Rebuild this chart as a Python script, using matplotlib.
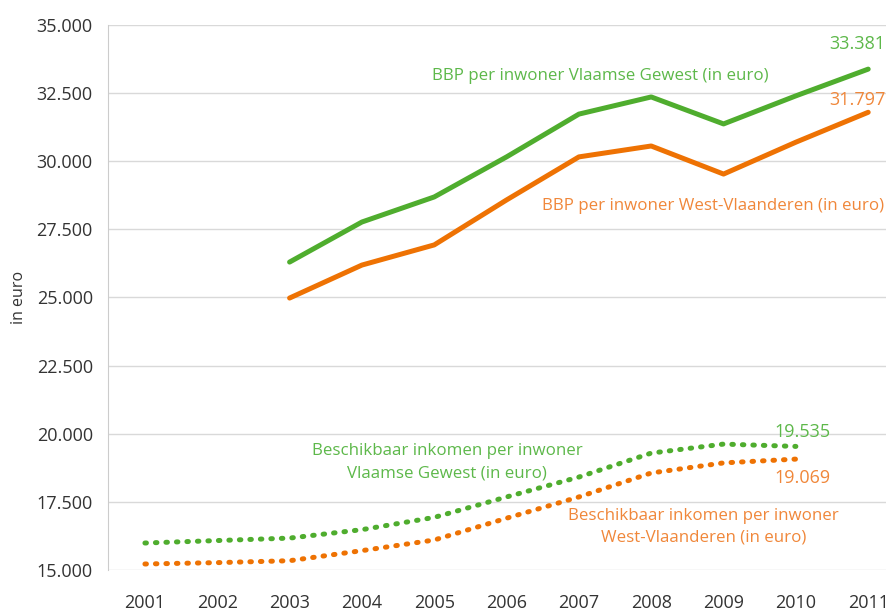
import matplotlib
matplotlib.use('Agg')
import matplotlib.pyplot as plt
from matplotlib.ticker import FuncFormatter

plt.rcParams['font.family'] = ['Open Sans', 'DejaVu Sans']

# data
years = list(range(2001, 2012))
bbp_years = list(range(2003, 2012))
bbp_vlaams = [26300, 27770, 28690, 30160, 31730, 32360, 31370, 32400, 33381]
bbp_west = [24980, 26190, 26930, 28580, 30160, 30560, 29530, 30700, 31797]

ink_years = list(range(2001, 2011))
ink_vlaams = [15990, 16080, 16170, 16480, 16930, 17680, 18410, 19290, 19620, 19535]
ink_west = [15220, 15270, 15340, 15710, 16100, 16900, 17680, 18560, 18930, 19069]

green = '#4FAD2E'
orange = '#EE7203'
green_txt = '#5DB84A'
orange_txt = '#F0873A'

fig = plt.figure(figsize=(8.87, 6.1), dpi=100)
ax = fig.add_axes([0.1218, 0.0656, 0.8782, 0.8934])

ax.plot(bbp_years, bbp_vlaams, color=green, lw=3.6, solid_capstyle='round', solid_joinstyle='round')
ax.plot(bbp_years, bbp_west, color=orange, lw=3.6, solid_capstyle='round', solid_joinstyle='round')
ax.plot(ink_years, ink_vlaams, color=green, lw=3.6, linestyle=(0, (0.3, 1.8)), dash_capstyle='round')
ax.plot(ink_years, ink_west, color=orange, lw=3.6, linestyle=(0, (0.3, 1.8)), dash_capstyle='round')

ax.set_xlim(2000.49, 2011.26)
ax.set_ylim(15000, 35000)
ax.set_yticks(range(15000, 35001, 2500))
ax.yaxis.set_major_formatter(FuncFormatter(lambda v, p: f'{int(v):,}'.replace(',', '.')))
ax.set_xticks(years)
ax.set_xticklabels([str(y) for y in years])

ax.grid(axis='y', color='#d9d9d9', lw=1)
ax.set_axisbelow(True)
for s in ['top', 'right', 'bottom']:
    ax.spines[s].set_visible(False)
ax.spines['left'].set_color('#cccccc')
ax.tick_params(length=0, labelsize=13, colors='#333333')
ax.tick_params(axis='y', pad=11)
ax.tick_params(axis='x', pad=17)
ax.set_ylabel('in euro', fontsize=11.5, color='#333333', labelpad=7)

ax.text(2007.29, 33130, 'BBP per inwoner Vlaamse Gewest (in euro)', color=green_txt,
        fontsize=12.2, ha='center', va='center')
ax.text(2011.24, 34300, '33.381', color=green_txt, fontsize=13, ha='right', va='center')
ax.text(2011.24, 32250, '31.797', color=orange_txt, fontsize=13, ha='right', va='center')
ax.text(2011.22, 28360, 'BBP per inwoner West-Vlaanderen (in euro)', color=orange_txt,
        fontsize=12.2, ha='right', va='center')
ax.text(2005.18, 18960, 'Beschikbaar inkomen per inwoner\nVlaamse Gewest (in euro)', color=green_txt,
        fontsize=12.2, ha='center', va='center', multialignment='center', linespacing=1.5)
ax.text(2010.09, 20070, '19.535', color=green_txt, fontsize=13, ha='center', va='center')
ax.text(2010.09, 18380, '19.069', color=orange_txt, fontsize=13, ha='center', va='center')
ax.text(2008.72, 16580, 'Beschikbaar inkomen per inwoner\nWest-Vlaanderen (in euro)', color=orange_txt,
        fontsize=12.2, ha='center', va='center', multialignment='center', linespacing=1.5)

fig.savefig('out.png', dpi=100)
